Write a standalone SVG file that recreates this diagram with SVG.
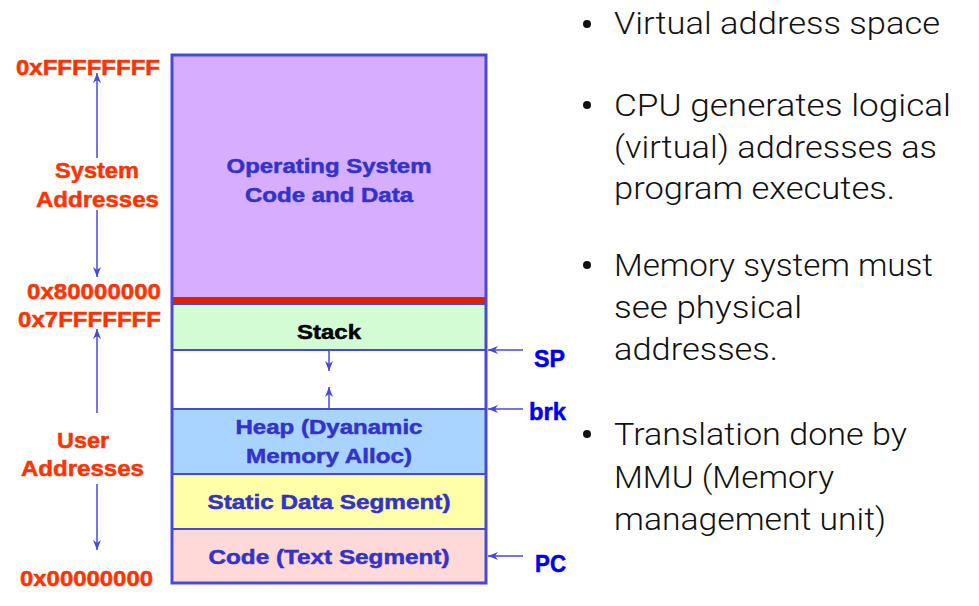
<svg xmlns="http://www.w3.org/2000/svg" width="979" height="606" viewBox="0 0 979 606">
<style>
.addr{font-family:"Liberation Sans",Arial,sans-serif;font-weight:bold;font-size:22px;fill:#FF3300;stroke:#FF3300;stroke-width:0.5}
.lbl{font-family:"Liberation Sans",Arial,sans-serif;font-weight:bold;font-size:20.5px;fill:#3333CC;stroke:#3333CC;stroke-width:0.5;text-anchor:middle}
.blk{fill:#000;stroke:#000}
.ptr{font-family:"Liberation Sans",Arial,sans-serif;font-weight:bold;font-size:23px;fill:#0000EE;stroke:#0000EE;stroke-width:0.5}
.bul{font-family:"Roboto","Liberation Sans",sans-serif;font-weight:300;font-size:31px;fill:#111}
.seg{stroke:#4848DD;stroke-width:2}
.ln{stroke:#4848DD;stroke-width:1.5;fill:none}
</style>
<defs>
<marker id="ah" viewBox="0 0 10 8" refX="10" refY="4" markerWidth="10" markerHeight="8" markerUnits="userSpaceOnUse" orient="auto">
<path d="M0,0 L10,4 L0,8 L3,4 z" fill="#4848DD"/>
</marker>
</defs>

<g id="os-segment">
<rect x="172" y="55" width="314" height="243" fill="#D7AEFF" class="seg"/>
<text class="lbl" x="329" y="173" textLength="205" lengthAdjust="spacingAndGlyphs">Operating System</text>
<text class="lbl" x="329" y="202" textLength="168" lengthAdjust="spacingAndGlyphs">Code and Data</text>
</g>
<g id="boundary">
<rect x="172" y="297" width="314" height="7" fill="#DD2200"/>
</g>
<g id="stack">
<rect x="172" y="304" width="314" height="46" fill="#D4FCD4" class="seg"/>
<text class="lbl blk" x="329" y="339" textLength="64" lengthAdjust="spacingAndGlyphs">Stack</text>
</g>
<g id="free">
<rect x="172" y="350" width="314" height="59" fill="#FFFFFF" class="seg"/>
</g>
<g id="heap">
<rect x="172" y="409" width="314" height="65" fill="#A8D4FF" class="seg"/>
<text class="lbl" x="329" y="434" textLength="187" lengthAdjust="spacingAndGlyphs">Heap (Dyanamic</text>
<text class="lbl" x="329" y="463" textLength="166" lengthAdjust="spacingAndGlyphs">Memory Alloc)</text>
</g>
<g id="static">
<rect x="172" y="474" width="314" height="55" fill="#FFFFAA" class="seg"/>
<text class="lbl" x="329" y="509" textLength="243" lengthAdjust="spacingAndGlyphs">Static Data Segment)</text>
</g>
<g id="code">
<rect x="172" y="529" width="314" height="54" fill="#FFD8D8" class="seg"/>
<text class="lbl" x="329" y="564" textLength="241" lengthAdjust="spacingAndGlyphs">Code (Text Segment)</text>
</g>
<g id="outline">
<rect x="172" y="55" width="314" height="528" fill="none" stroke="#4848DD" stroke-width="3"/>
</g>

<g id="address-labels">
<text class="addr" x="16" y="75" textLength="144" lengthAdjust="spacingAndGlyphs">0xFFFFFFFF</text>
<text class="addr" x="27" y="299" textLength="134" lengthAdjust="spacingAndGlyphs">0x80000000</text>
<text class="addr" x="18" y="327" textLength="143" lengthAdjust="spacingAndGlyphs">0x7FFFFFFF</text>
<text class="addr" x="20" y="586" textLength="133" lengthAdjust="spacingAndGlyphs">0x00000000</text>
<text class="addr" x="55" y="178" textLength="84" lengthAdjust="spacingAndGlyphs">System</text>
<text class="addr" x="36" y="207" textLength="123" lengthAdjust="spacingAndGlyphs">Addresses</text>
<text class="addr" x="57" y="448" textLength="52" lengthAdjust="spacingAndGlyphs">User</text>
<text class="addr" x="21" y="476" textLength="123" lengthAdjust="spacingAndGlyphs">Addresses</text>
</g>

<g id="pointers">
<text class="ptr" x="534" y="367" textLength="31" lengthAdjust="spacingAndGlyphs">SP</text>
<text class="ptr" x="529" y="420" textLength="37" lengthAdjust="spacingAndGlyphs">brk</text>
<text class="ptr" x="535" y="572" textLength="31" lengthAdjust="spacingAndGlyphs">PC</text>
</g>

<g id="connectors">
<line class="ln" x1="97" y1="158" x2="97" y2="73" marker-end="url(#ah)"/>
<line class="ln" x1="97" y1="210" x2="97" y2="277" marker-end="url(#ah)"/>
<line class="ln" x1="97" y1="413" x2="97" y2="329" marker-end="url(#ah)"/>
<line class="ln" x1="97" y1="484" x2="97" y2="550" marker-end="url(#ah)"/>
<line class="ln" x1="329" y1="351" x2="329" y2="371" marker-end="url(#ah)"/>
<line class="ln" x1="329" y1="408" x2="329" y2="387" marker-end="url(#ah)"/>
<line class="ln" x1="523" y1="350" x2="488" y2="350" marker-end="url(#ah)"/>
<line class="ln" x1="523" y1="409" x2="488" y2="409" marker-end="url(#ah)"/>
<line class="ln" x1="523" y1="556" x2="488" y2="556" marker-end="url(#ah)"/>
</g>

<g id="bullets">
<circle cx="587" cy="24" r="4" fill="#111"/>
<text class="bul" x="614" y="34" textLength="326" lengthAdjust="spacingAndGlyphs">Virtual address space</text>
<circle cx="587" cy="105" r="4" fill="#111"/>
<text class="bul" x="614" y="116" textLength="337" lengthAdjust="spacingAndGlyphs">CPU generates logical</text>
<text class="bul" x="614" y="158" textLength="323" lengthAdjust="spacingAndGlyphs">(virtual) addresses as</text>
<text class="bul" x="614" y="199" textLength="281" lengthAdjust="spacingAndGlyphs">program executes.</text>
<circle cx="587" cy="265" r="4" fill="#111"/>
<text class="bul" x="614" y="276" textLength="319" lengthAdjust="spacingAndGlyphs">Memory system must</text>
<text class="bul" x="614" y="318" textLength="188" lengthAdjust="spacingAndGlyphs">see physical</text>
<text class="bul" x="614" y="360" textLength="164" lengthAdjust="spacingAndGlyphs">addresses.</text>
<circle cx="587" cy="434" r="4" fill="#111"/>
<text class="bul" x="614" y="445" textLength="293" lengthAdjust="spacingAndGlyphs">Translation done by</text>
<text class="bul" x="614" y="488" textLength="220" lengthAdjust="spacingAndGlyphs">MMU (Memory</text>
<text class="bul" x="614" y="530" textLength="272" lengthAdjust="spacingAndGlyphs">management unit)</text>
</g>
</svg>
